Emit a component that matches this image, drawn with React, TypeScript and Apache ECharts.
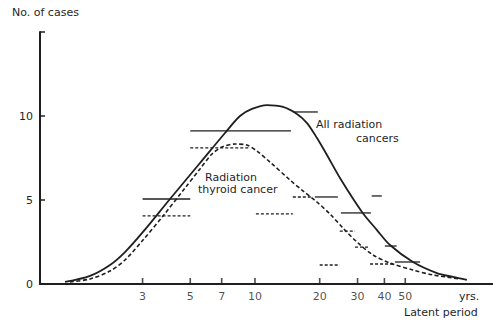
import { useEffect, useRef } from 'react';
import * as echarts from 'echarts';

// Smooth curves: [latent period (yrs), number of cases]
const allCancersCurve: [number, number][] = [
  [1.307, 0.12], [1.708, 0.48], [2.117, 1.13], [2.485, 1.9], [3.014, 3.1], [4.024, 5.06],
  [5.549, 7.2], [7.253, 8.99], [8.517, 10.0], [9.68, 10.42], [11.37, 10.65], [13.5, 10.54],
  [15.68, 10.12], [17.46, 9.58], [19.43, 8.69], [21.62, 7.68], [24.85, 6.31], [31.46, 4.29],
  [36.94, 3.21], [42.46, 2.32], [54.31, 1.31], [70.23, 0.65], [83.35, 0.42], [96.8, 0.24],
];
const thyroidCurve: [number, number][] = [
  [1.379, 0.12], [1.708, 0.3], [2.117, 0.77], [2.485, 1.43], [3.014, 2.62], [3.734, 4.05],
  [4.725, 5.71], [5.549, 6.85], [6.31, 7.74], [7.022, 8.15], [8.07, 8.33], [9.18, 8.27],
  [10.33, 7.86], [11.74, 7.26], [14.55, 6.19], [16.72, 5.54], [19.43, 4.88], [22.33, 4.17],
  [25.66, 3.33], [29.81, 2.5], [35.39, 1.73], [42.46, 1.25], [54.31, 0.83], [67.3, 0.54],
  [89.9, 0.3],
];
// Histogram steps: [from yrs, to yrs, cases]
const allCancersBins: [number, number, number][] = [
  [3, 5, 5.06], [5, 14.7, 9.11], [15, 19.6, 10.24], [19, 24.3, 5.18], [25.1, 34.6, 4.23],
  [34.9, 38.9, 5.24], [40.2, 45.6, 2.26], [44.8, 58.6, 1.31],
];
const thyroidBins: [number, number, number][] = [
  [3, 5, 4.05], [5, 9.5, 8.1], [10.1, 15, 4.17], [15, 18.6, 5.18], [20, 24.8, 1.13],
  [24.8, 29.2, 3.15], [29.2, 33.9, 2.2], [34.3, 44.8, 1.19],
];
const xTickValues = [3, 5, 7, 10, 20, 30, 40, 50];

export default function App() {
  const ref = useRef<HTMLDivElement>(null);
  useEffect(() => {
    const chart = echarts.init(ref.current!, null, { renderer: 'svg' });
    const ink = '#1f1f1f';
    const font = 'DejaVu Sans';
    const series: any[] = [];
    series.push({
      type: 'line', data: allCancersCurve, smooth: 0.3, symbol: 'none', clip: false,
      lineStyle: { color: ink, width: 1.8 }, z: 3,
    });
    series.push({
      type: 'line', data: thyroidCurve, smooth: 0.3, symbol: 'none', clip: false,
      lineStyle: { color: ink, width: 1.6, type: [4, 2.5] }, z: 3,
    });
    allCancersBins.forEach((b) => {
      series.push({
        type: 'line', data: [[b[0], b[2]], [b[1], b[2]]], symbol: 'none', clip: false,
        lineStyle: { color: ink, width: 1.3 },
      });
    });
    thyroidBins.forEach((b) => {
      series.push({
        type: 'line', data: [[b[0], b[2]], [b[1], b[2]]], symbol: 'none', clip: false,
        lineStyle: { color: ink, width: 1.3, type: [3, 2] },
      });
    });
    series.push({
      type: 'scatter', data: xTickValues.map((v) => [v, 0]), symbol: 'rect',
      symbolSize: [1.6, 6], symbolOffset: [0, -3], clip: false, z: 5,
      itemStyle: { color: ink },
      label: {
        show: true, position: 'bottom', distance: 7, color: ink, fontSize: 11, fontFamily: font,
        formatter: (p: any) => String(p.value[0]),
      },
    });

    chart.setOption({
      animation: false,
      backgroundColor: '#ffffff',
      grid: { left: 40, right: 0, top: 32, bottom: 42 },
      xAxis: {
        type: 'log', min: 1, max: 128, logBase: 10,
        axisLine: { show: true, lineStyle: { color: ink, width: 2 } },
        axisTick: { show: false }, axisLabel: { show: false }, splitLine: { show: false },
      },
      yAxis: {
        type: 'value', min: 0, max: 15, interval: 5,
        axisLine: { show: true, lineStyle: { color: ink, width: 2 } },
        axisTick: { show: true, inside: true, length: 5, lineStyle: { color: ink, width: 1.5 } },
        axisLabel: {
          color: ink, fontSize: 11, fontFamily: font, margin: 7,
          formatter: (v: number) => (v === 15 ? '' : String(v)),
        },
        splitLine: { show: false },
      },
      graphic: [
        { type: 'text', left: 12, top: 7, style: { text: 'No. of cases', fontSize: 11, fontFamily: font, fill: ink } },
        { type: 'text', left: 316, top: 119, style: { text: 'All radiation', fontSize: 11, fontFamily: font, fill: ink } },
        { type: 'text', left: 356, top: 133, style: { text: 'cancers', fontSize: 11, fontFamily: font, fill: ink } },
        { type: 'text', left: 205, top: 172, style: { text: 'Radiation', fontSize: 11, fontFamily: font, fill: ink } },
        { type: 'text', left: 198, top: 184, style: { text: 'thyroid cancer', fontSize: 11, fontFamily: font, fill: ink } },
        { type: 'text', left: 459, top: 291, style: { text: 'yrs.', fontSize: 11, fontFamily: font, fill: ink } },
        { type: 'text', left: 404, top: 307, style: { text: 'Latent period', fontSize: 11, fontFamily: font, fill: ink } },
      ],
      series,
    });
    return () => chart.dispose();
  }, []);
  return (
    <div
      ref={ref}
      style={{ position: 'fixed', left: 0, top: 0, width: 493, height: 326, background: '#fff' }}
    />
  );
}
